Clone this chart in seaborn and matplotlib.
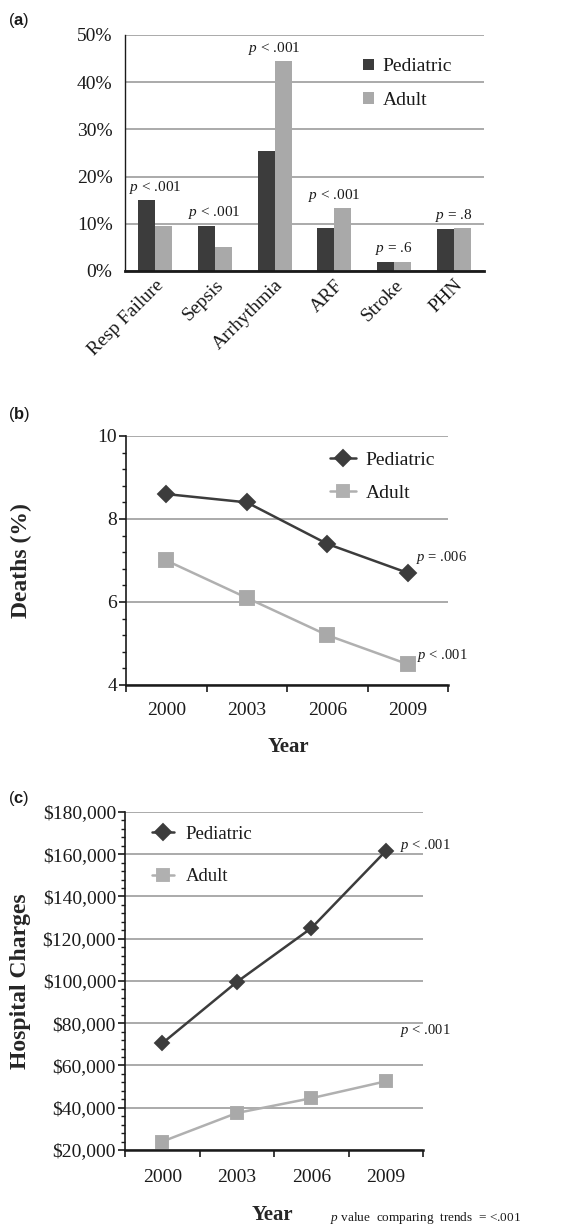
import numpy as np
import pandas as pd
import seaborn as sns
import matplotlib
matplotlib.use('Agg')
import matplotlib.pyplot as plt
from matplotlib.ticker import MultipleLocator, FuncFormatter

# ===== data =====
complications = ['Resp Failure', 'Sepsis', 'Arrhythmia', 'ARF', 'Stroke', 'PHN']
comp_pediatric = [15.0, 9.6, 25.5, 9.2, 2.0, 8.9]
comp_adult = [9.5, 5.0, 44.5, 13.3, 2.0, 9.1]
comp_pvals = ['< .001', '< .001', '< .001', '< .001', '= .6', '= .8']

years = ['2000', '2003', '2006', '2009']
deaths_pediatric = [8.6, 8.4, 7.4, 6.7]
deaths_adult = [7.0, 6.1, 5.2, 4.5]
deaths_pvals = ['= .006', '< .001']

charges_pediatric = [70500, 99500, 125000, 161500]
charges_adult = [24000, 37500, 44500, 52500]
charges_pvals = ['< .001', '< .001']

groups = ['Pediatric', 'Adult']
dark = '#3c3c3c'
light = '#a9a9a9'
grid_col = '#9c9c9c'
txt = '#1a1a1a'

# ===== style =====
sns.set_theme(style='white')
plt.rcParams['font.family'] = ['Liberation Serif', 'DejaVu Serif']
plt.rcParams['mathtext.fontset'] = 'custom'
plt.rcParams['mathtext.rm'] = 'Liberation Serif'
plt.rcParams['mathtext.it'] = 'Liberation Serif:italic'
plt.rcParams['mathtext.bf'] = 'Liberation Sans:bold'
plt.rcParams['text.color'] = txt
plt.rcParams['xtick.color'] = txt
plt.rcParams['ytick.color'] = txt

fig = plt.figure(figsize=(5.88, 12.26), dpi=100)
ax_a = fig.add_axes([0.2126, 0.7790, 0.6105, 0.1925])
ax_b = fig.add_axes([0.2143, 0.4413, 0.5476, 0.2031])
ax_c = fig.add_axes([0.2126, 0.0620, 0.5068, 0.2757])

# ===== (a) complications bar chart =====
df_a = pd.DataFrame({
    'Complication': complications * 2,
    'Rate': comp_pediatric + comp_adult,
    'Group': ['Pediatric'] * len(complications) + ['Adult'] * len(complications),
})
sns.barplot(data=df_a, x='Complication', y='Rate', hue='Group', hue_order=groups,
            palette={'Pediatric': dark, 'Adult': light}, width=0.57, gap=0,
            saturation=1, linewidth=0, ax=ax_a)
ax_a.set_ylim(0, 50)
ax_a.set_yticks(np.arange(0, 51, 10))
ax_a.yaxis.set_major_formatter(FuncFormatter(lambda v, p: '{:.0f}%'.format(v)))
ax_a.set_axisbelow(True)
ax_a.yaxis.grid(True, color=grid_col, lw=1.2)
ax_a.set_xlabel('')
ax_a.set_ylabel('')
for s in ['top', 'right']:
    ax_a.spines[s].set_visible(False)
ax_a.spines['left'].set_color(txt)
ax_a.spines['left'].set_linewidth(1.0)
ax_a.spines['bottom'].set_color(txt)
ax_a.spines['bottom'].set_linewidth(2.0)
ax_a.tick_params(axis='y', length=0, pad=9, labelsize=14)
ax_a.tick_params(axis='x', length=0, pad=4, labelsize=14)
plt.setp(ax_a.get_xticklabels(), rotation=45, ha='right', rotation_mode='anchor')
for i, pv in enumerate(comp_pvals):
    top = max(comp_pediatric[i], comp_adult[i])
    ax_a.text(i, top + 2.7, '$p$ ' + pv, ha='center', va='center', fontsize=11)
sns.move_legend(ax_a, 'upper left', bbox_to_anchor=(0.615, 0.975), title=None,
                frameon=False, fontsize=14, handlelength=0.55, handleheight=0.55,
                handletextpad=0.45, labelspacing=0.85)

# ===== (b) deaths =====
df_b = pd.DataFrame({
    'Year': years * 2,
    'Deaths': deaths_pediatric + deaths_adult,
    'Group': ['Pediatric'] * len(years) + ['Adult'] * len(years),
})
df_c = pd.DataFrame({
    'Year': years * 2,
    'Charges': charges_pediatric + charges_adult,
    'Group': ['Pediatric'] * len(years) + ['Adult'] * len(years),
})


def trend_axes(ax, yname, df, ylim, major, minor, fmt, mk_sizes):
    sns.pointplot(data=df, x='Year', y=yname, hue='Group', hue_order=groups,
                  palette={'Pediatric': dark, 'Adult': '#b0b0b0'},
                  markers=['D', 's'], linestyles=['-', '-'], errorbar=None,
                  markersize=8, linewidth=1.8, ax=ax)
    for ln in ax.lines:
        if ln.get_marker() == 's':
            ln.set_markersize(mk_sizes[1])
            ln.set_markerfacecolor(light)
            ln.set_markeredgecolor(light)
        elif ln.get_marker() == 'D':
            ln.set_markersize(mk_sizes[0])
    ax.set_xlim(-0.5, len(years) - 0.5)
    ax.set_ylim(*ylim)
    ax.yaxis.set_major_locator(MultipleLocator(major))
    ax.yaxis.set_minor_locator(MultipleLocator(minor))
    ax.yaxis.set_major_formatter(FuncFormatter(fmt))
    ax.set_xticks(np.arange(-0.5, len(years), 1.0), labels=[''] * (len(years) + 1))
    ax.set_xticks(range(len(years)), labels=years, minor=True)
    ax.tick_params(axis='x', which='major', bottom=True, length=5, width=1.2, direction='out')
    ax.tick_params(axis='x', which='minor', bottom=True, length=0, pad=12, labelsize=14)
    ax.tick_params(axis='y', which='major', left=True, length=5, width=1.2, direction='out',
                   pad=1.5, labelsize=14)
    ax.tick_params(axis='y', which='minor', left=True, length=3, width=1.0, direction='out')
    ax.set_axisbelow(True)
    ax.yaxis.grid(True, which='major', color=grid_col, lw=1.2)
    for s in ['top', 'right']:
        ax.spines[s].set_visible(False)
    ax.spines['left'].set_color(txt)
    ax.spines['left'].set_linewidth(1.2)
    ax.spines['bottom'].set_color(txt)
    ax.spines['bottom'].set_linewidth(1.8)


trend_axes(ax_b, 'Deaths', df_b, (4, 10), 2, 0.4, lambda v, p: '{:.0f}'.format(v), (8, 9.5))
ax_b.set_xlabel('Year', fontsize=15, fontweight='bold', va='center')
ax_b.xaxis.set_label_coords(0.503, -0.249)
ax_b.set_ylabel('Deaths (%)', fontsize=17, fontweight='bold', va='center')
ax_b.yaxis.set_label_coords(-0.326, 0.5)
ax_b.text(3.1, 7.08, '$p$ ' + deaths_pvals[0], ha='left', va='center', fontsize=10.5)
ax_b.text(3.12, 4.72, '$p$ ' + deaths_pvals[1], ha='left', va='center', fontsize=10.5)
sns.move_legend(ax_b, 'upper left', bbox_to_anchor=(0.578, 1.01), title=None,
                frameon=False, fontsize=14, handlelength=1.35, handletextpad=0.5,
                labelspacing=0.8)

# ===== (c) hospital charges =====
trend_axes(ax_c, 'Charges', df_c, (20000, 180000), 20000, 4000,
           lambda v, p: '${:,.0f}'.format(v), (7.5, 8.5))
ax_c.set_xlabel('Year', fontsize=15, fontweight='bold', va='center')
ax_c.xaxis.set_label_coords(0.493, -0.192)
ax_c.set_ylabel('Hospital Charges', fontsize=17, fontweight='bold', va='center')
ax_c.yaxis.set_label_coords(-0.352, 0.5)
ax_c.tick_params(axis='x', which='minor', pad=14)
ax_c.text(3.19, 164000, '$p$ ' + charges_pvals[0], ha='left', va='center', fontsize=10.5)
ax_c.text(3.19, 76500, '$p$ ' + charges_pvals[1], ha='left', va='center', fontsize=10.5)
sns.move_legend(ax_c, 'upper left', bbox_to_anchor=(0.033, 1.009), title=None,
                frameon=False, fontsize=13.5, handlelength=1.2, handletextpad=0.6,
                labelspacing=1.35)
fig.text(330 / 588, 1 - 1218 / 1226, r'$p$ value  comparing  trends  = <.001',
         ha='left', va='center', fontsize=9.5)

# ===== panel labels =====
for lab, ypx in [('a', 20), ('b', 415), ('c', 798)]:
    fig.text(8 / 588, 1 - ypx / 1226, r'($\mathbf{' + lab + '}$)', ha='left', va='center',
             fontsize=12, family='Liberation Sans')

fig.savefig('out.png', dpi=100)
